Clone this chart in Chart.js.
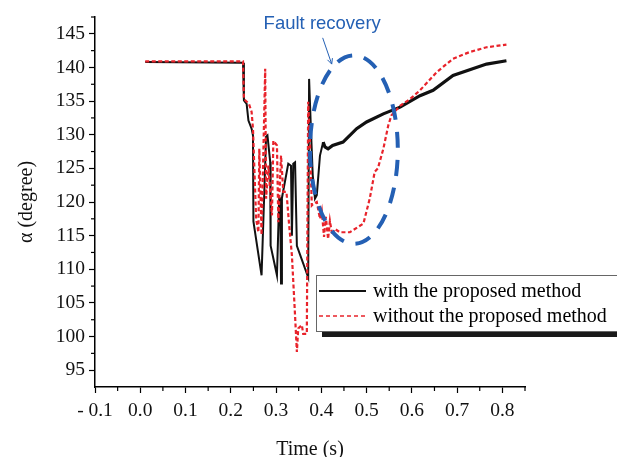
<!DOCTYPE html>
<html>
<head>
<meta charset="utf-8">
<script src="https://cdn.jsdelivr.net/npm/chart.js@4.4.1/dist/chart.umd.min.js"></script>
<style>
  html, body { margin: 0; padding: 0; background: #ffffff; }
  #wrap { position: relative; width: 617px; height: 457px; }
</style>
</head>
<body>
<div id="wrap"><canvas id="c" width="617" height="457"></canvas></div>
<script>
// ---- data ----
const seriesLabels = ['with the proposed method', 'without the proposed method'];

const timeWith = [0.011,0.227,0.229,0.235,0.239,0.246,0.249,0.250,0.268,0.278,0.281,0.287,0.288,0.302,0.307,0.309,0.311,0.313,0.327,0.333,0.335,0.338,0.342,0.346,0.371,0.373,0.377,0.381,0.386,0.390,0.397,0.404,0.408,0.415,0.425,0.448,0.478,0.500,0.537,0.574,0.618,0.647,0.691,0.765,0.809];
const alphaWith = [140.8,140.7,135.1,134.6,132.1,130.9,129.9,117.1,109.1,129.7,129.9,126.0,113.5,109.1,120.7,120.5,107.9,120.6,125.7,125.4,115.0,125.7,125.9,113.5,108.8,138.3,130.9,124.0,120.5,121.0,126.9,128.9,128.2,127.9,128.4,128.9,130.9,131.9,133.1,134.1,135.8,136.6,138.8,140.5,141.0];

const timeWithout = [0.011,0.227,0.229,0.240,0.246,0.249,0.256,0.261,0.263,0.268,0.276,0.278,0.283,0.291,0.294,0.302,0.305,0.311,0.316,0.323,0.329,0.335,0.342,0.346,0.349,0.357,0.360,0.368,0.371,0.375,0.379,0.382,0.390,0.397,0.401,0.406,0.410,0.415,0.419,0.424,0.430,0.441,0.463,0.493,0.507,0.518,0.525,0.537,0.548,0.555,0.574,0.596,0.618,0.655,0.691,0.728,0.765,0.809];
const alphaWithout = [140.9,140.9,135.3,134.6,133.4,130.9,117.5,115.5,127.9,115.1,139.8,120.5,125.4,118.0,129.1,128.4,117.0,126.9,121.5,121.5,116.5,112.1,103.1,97.7,101.2,101.7,100.4,100.4,134.9,128.7,119.5,119.7,120.0,117.5,118.7,114.8,117.8,114.5,117.2,115.1,116.0,115.5,115.5,116.8,120.5,124.5,125.0,127.9,131.4,132.9,134.3,135.3,136.6,139.3,141.3,142.3,143.0,143.4];

const xTickValues = [-0.1,0.0,0.1,0.2,0.3,0.4,0.5,0.6,0.7,0.8];
const yTickValues = [95,100,105,110,115,120,125,130,135,140,145];
const xMinorTicks = [-0.05,0.05,0.15,0.25,0.35,0.45,0.55,0.65,0.75,0.85];
const yMinorTicks = [97.5,102.5,107.5,112.5,117.5,122.5,127.5,132.5,137.5,142.5,147.5];

// annotation (data units)
const noteText = 'Fault recovery';
const noteAt = {t: 0.402, v: 146.4};
const arrowFrom = {t: 0.403, v: 144.4};
const arrowTo = {t: 0.423, v: 140.5};
const ellipse = {t: 0.472, v: 127.8, rt: 0.097, rv: 14.0};

const SERIF = "'Liberation Serif', 'Times New Roman', serif";
const SANS = "'Liberation Sans', Arial, sans-serif";
const BLUE = '#2460b4';
const RED = '#e8232b';

function pts(ts, vs) { return ts.map((t, i) => ({x: t, y: vs[i]})); }

const overlay = {
  id: 'overlay',
  afterDatasetsDraw(chart) {
    const ctx = chart.ctx;
    const xs = chart.scales.x, ys = chart.scales.y;
    ctx.save();
    // minor ticks
    ctx.strokeStyle = '#000'; ctx.lineWidth = 1.2;
    const yAxisX = xs.left;
    const xAxisY = ys.bottom;
    xMinorTicks.forEach(v => {
      const px = xs.getPixelForValue(v);
      ctx.beginPath(); ctx.moveTo(px, xAxisY); ctx.lineTo(px, xAxisY + 4); ctx.stroke();
    });
    yMinorTicks.forEach(v => {
      const py = ys.getPixelForValue(v);
      ctx.beginPath(); ctx.moveTo(yAxisX, py); ctx.lineTo(yAxisX - 4, py); ctx.stroke();
    });

    // ellipse
    const cx = xs.getPixelForValue(ellipse.t), cy = ys.getPixelForValue(ellipse.v);
    const rx = xs.getPixelForValue(ellipse.t + ellipse.rt) - cx;
    const ry = cy - ys.getPixelForValue(ellipse.v + ellipse.rv);
    ctx.strokeStyle = BLUE; ctx.lineWidth = 4; ctx.setLineDash([16, 12]); ctx.lineCap = 'butt';
    ctx.beginPath(); ctx.ellipse(cx, cy, rx, ry, 0, -Math.PI * 0.62, Math.PI * 1.38); ctx.stroke();
    ctx.setLineDash([]);

    // arrow
    const ax0 = xs.getPixelForValue(arrowFrom.t), ay0 = ys.getPixelForValue(arrowFrom.v);
    const ax1 = xs.getPixelForValue(arrowTo.t), ay1 = ys.getPixelForValue(arrowTo.v);
    ctx.lineWidth = 1; ctx.strokeStyle = BLUE;
    ctx.beginPath(); ctx.moveTo(ax0, ay0); ctx.lineTo(ax1, ay1); ctx.stroke();
    const ang = Math.atan2(ay1 - ay0, ax1 - ax0);
    ctx.beginPath();
    ctx.moveTo(ax1, ay1);
    ctx.lineTo(ax1 - 6 * Math.cos(ang - 0.45), ay1 - 6 * Math.sin(ang - 0.45));
    ctx.moveTo(ax1, ay1);
    ctx.lineTo(ax1 - 6 * Math.cos(ang + 0.45), ay1 - 6 * Math.sin(ang + 0.45));
    ctx.stroke();

    // note text
    ctx.fillStyle = BLUE; ctx.font = '18.5px ' + SANS;
    ctx.textAlign = 'center'; ctx.textBaseline = 'middle';
    ctx.fillText(noteText, xs.getPixelForValue(noteAt.t), ys.getPixelForValue(noteAt.v));

    // legend
    const lx = 316, ly = 275, lw = 320, lh = 56;
    ctx.fillStyle = '#1a1a1a';
    ctx.fillRect(lx + 6, ly + lh, lw, 6);
    ctx.fillStyle = '#ffffff';
    ctx.fillRect(lx, ly, lw, lh);
    ctx.strokeStyle = '#666'; ctx.lineWidth = 1;
    ctx.strokeRect(lx + 0.5, ly + 0.5, lw, lh);
    const ds = chart.data.datasets;
    const rows = [ly + 16, ly + 41];
    ds.forEach((d, i) => {
      ctx.strokeStyle = d.borderColor; ctx.lineWidth = i === 0 ? 2 : 1.6;
      ctx.setLineDash(i === 0 ? [] : [4, 3]);
      ctx.beginPath(); ctx.moveTo(lx + 3, rows[i]); ctx.lineTo(lx + 50, rows[i]); ctx.stroke();
      ctx.setLineDash([]);
      ctx.fillStyle = '#000'; ctx.font = '20px ' + SERIF;
      ctx.textAlign = 'left'; ctx.textBaseline = 'middle';
      ctx.fillText(d.label, lx + 57, rows[i] + 1);
    });
    ctx.restore();
  }
};

new Chart(document.getElementById('c'), {
  type: 'line',
  data: {
    datasets: [
      {
        label: seriesLabels[0],
        data: pts(timeWith, alphaWith),
        borderColor: '#111111',
        borderWidth: 2,
        pointRadius: 0,
        tension: 0,
        segment: { borderWidth: c => (c.p0.parsed.x >= 0.4 ? 3.2 : 2) },
        order: 1
      },
      {
        label: seriesLabels[1],
        data: pts(timeWithout, alphaWithout),
        borderColor: RED,
        borderWidth: 2.2,
        borderDash: [4, 2.5],
        pointRadius: 0,
        tension: 0,
        order: 0
      }
    ]
  },
  options: {
    responsive: false,
    animation: false,
    events: [],
    layout: { padding: { top: 17, right: 92, left: 0, bottom: 0 } },
    plugins: { legend: { display: false }, tooltip: { enabled: false } },
    scales: {
      x: {
        type: 'linear', min: -0.1, max: 0.85,
        afterBuildTicks: s => { s.ticks = xTickValues.map(v => ({value: v})); },
        afterFit: s => { s.height = 70; },
        grid: { display: true, drawOnChartArea: false, drawTicks: true, tickLength: 6, color: '#000', tickWidth: 1.2 },
        border: { display: true, color: '#000', width: 1.5 },
        ticks: {
          color: '#111', font: { family: SERIF, size: 19.5 }, padding: 6, maxRotation: 0, autoSkip: false,
          callback: v => (Math.abs(v + 0.1) < 1e-9 ? '- 0.1' : Number(v).toFixed(1))
        },
        title: { display: true, text: 'Time (s)', color: '#111', font: { family: SERIF, size: 20 }, padding: { top: 12, bottom: -5 } }
      },
      y: {
        type: 'linear', min: 92.5, max: 147.5,
        afterBuildTicks: s => { s.ticks = yTickValues.map(v => ({value: v})); },
        afterFit: s => { s.width = 95; },
        grid: { display: true, drawOnChartArea: false, drawTicks: true, tickLength: 6, color: '#000', tickWidth: 1.2 },
        border: { display: true, color: '#000', width: 1.5 },
        ticks: { color: '#111', font: { family: SERIF, size: 19.5 }, padding: 4, autoSkip: false },
        title: { display: true, text: 'α (degree)', color: '#111', font: { family: SERIF, size: 20 }, padding: { top: 15, bottom: 0 } }
      }
    }
  },
  plugins: [overlay]
});
</script>
</body>
</html>
